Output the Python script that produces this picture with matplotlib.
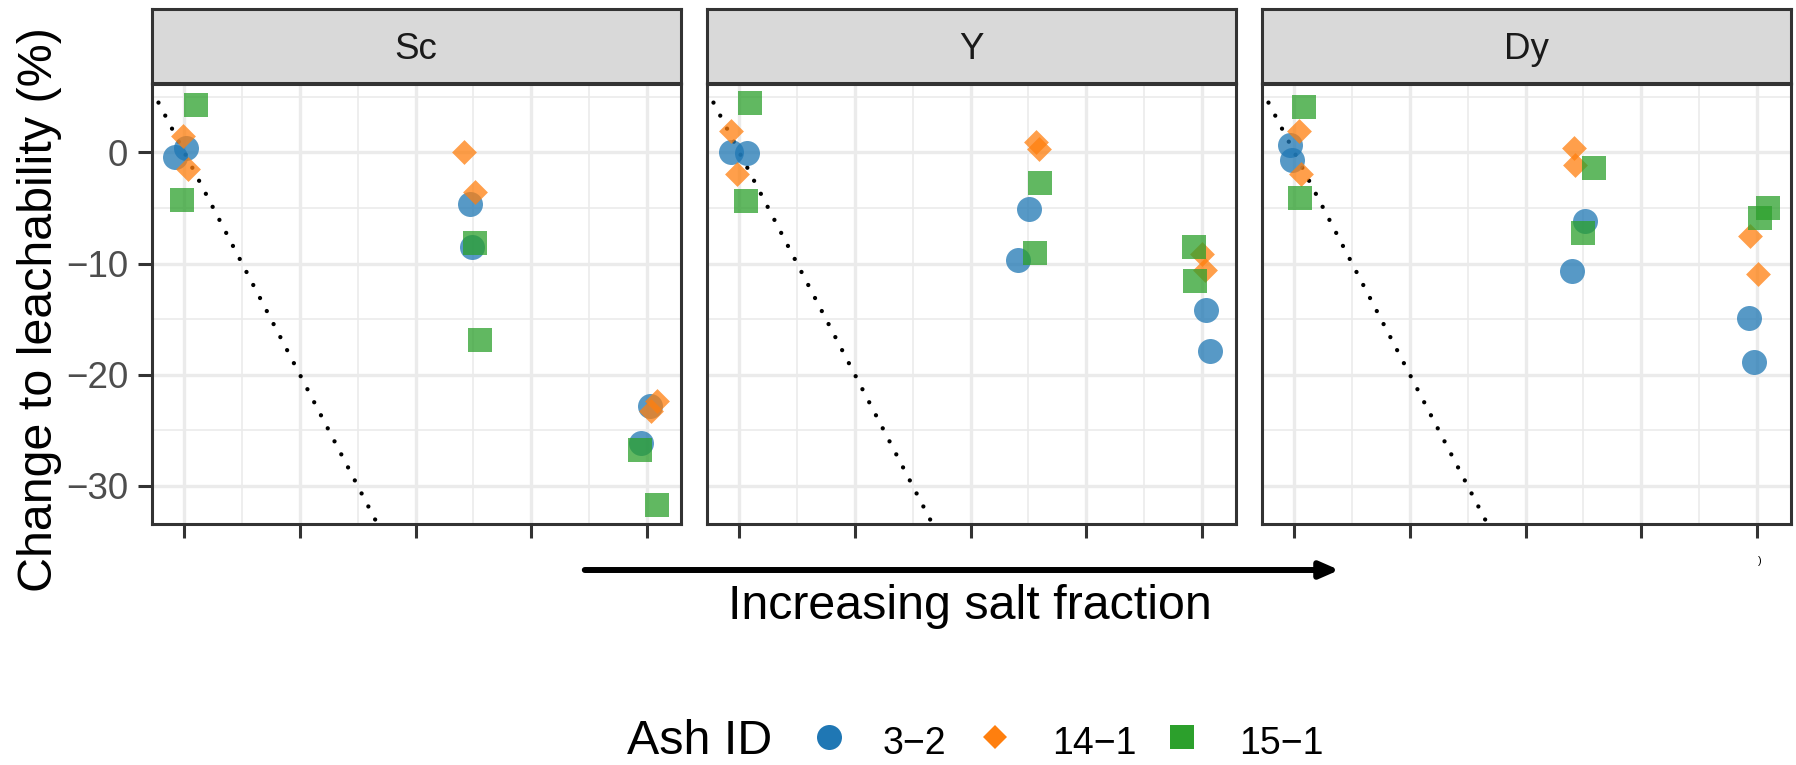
import matplotlib
matplotlib.use("Agg")
import matplotlib.pyplot as plt
from matplotlib.lines import Line2D
from matplotlib.patches import FancyArrowPatch

plt.rcParams["font.family"] = ["Liberation Sans", "DejaVu Sans"]

# facets and groups
elements = ["Sc", "Y", "Dy"]
ash_ids = ["3\u22122", "14\u22121", "15\u22121"]
ash_colors = ["#1f77b4", "#ff7f0e", "#2ca02c"]
ash_markers = ["o", "D", "s"]
ash_sizes = [324, 160, 310]

# salt fraction position (jittered) and change to leachability (%)
sc_x = [[0.012, -0.084, 2.475, 2.493, 4.025, 3.954],
        [-0.010, 0.034, 2.419, 2.511, 4.087, 4.037],
        [0.105, -0.016, 2.518, 2.561, 3.945, 4.093]]
sc_y = [[0.39, -0.42, -4.62, -8.48, -22.85, -26.15],
        [1.49, -1.50, 0.0, -3.6, -22.4, -23.3],
        [4.22, -4.31, -8.18, -16.9, -26.8, -31.7]]

y_x = [[-0.071, 0.067, 2.503, 2.413, 4.041, 4.076],
       [-0.068, -0.016, 2.570, 2.595, 4.004, 4.032],
       [0.096, 0.061, 2.598, 2.555, 3.930, 3.939]]
y_y = [[0.05, -0.06, -5.12, -9.7, -14.14, -17.88],
       [1.94, -1.98, 0.95, 0.32, -9.14, -10.57],
       [4.4, -4.4, -2.79, -9.08, -8.54, -11.6]]

dy_x = [[-0.040, -0.022, 2.512, 2.405, 3.930, 3.978],
        [0.044, 0.059, 2.420, 2.426, 3.946, 4.012],
        [0.082, 0.047, 2.593, 2.497, 4.098, 4.029]]
dy_y = [[0.63, -0.66, -6.17, -10.7, -14.89, -18.84],
        [1.91, -1.95, 0.41, -1.11, -7.52, -10.9],
        [4.04, -4.13, -1.44, -7.28, -5.03, -5.93]]

panel_x = [sc_x, y_x, dy_x]
panel_y = [sc_y, y_y, dy_y]

W, H = 1796, 765
GREY20 = "#333333"


def px_box(left, top, right, bottom):
    return [left / W, 1 - bottom / H, (right - left) / W, (bottom - top) / H]


fig = plt.figure(figsize=(W / 100, H / 100), dpi=100)

panel_lefts = [151.7, 706.7, 1261.7]
panel_w = 529

for i, name in enumerate(elements):
    left = panel_lefts[i]
    ax = fig.add_axes(px_box(left, 84, left + panel_w, 524))
    ax.set_xlim(-0.282, 4.294)
    ax.set_ylim(-33.42, 6.14)
    ax.set_xticks(range(5))
    ax.set_xticks([0.5, 1.5, 2.5, 3.5], minor=True)
    ax.set_yticks([-30, -20, -10, 0])
    ax.set_yticks([-25, -15, -5, 5], minor=True)
    ax.set_axisbelow(True)
    ax.grid(which="major", color="#EBEBEB", lw=2.4)
    ax.grid(which="minor", color="#EBEBEB", lw=1.2)
    ax.tick_params(which="minor", length=0)
    ax.tick_params(axis="x", which="major", length=10, width=2.2,
                   color=GREY20, labelbottom=False)
    if i == 0:
        ax.tick_params(axis="y", which="major", length=10, width=2.2,
                       color=GREY20, labelsize=26.5, labelcolor="#4D4D4D",
                       pad=7)
    else:
        ax.tick_params(axis="y", which="major", left=False, labelleft=False)
    for sp in ax.spines.values():
        sp.set_linewidth(2.2)
        sp.set_color(GREY20)
        sp.set_zorder(5)

    # 1:1 dilution reference
    ax.axline((0, 0), slope=-20, color="black", lw=3.1,
              linestyle=(0, (0.01, 3.4)), dash_capstyle="round", zorder=1.5)

    for j in range(len(ash_ids)):
        ax.scatter(panel_x[i][j], panel_y[i][j], marker=ash_markers[j],
                   s=ash_sizes[j], color=ash_colors[j], alpha=0.75,
                   linewidths=0, zorder=3)

    # facet strip
    sax = fig.add_axes(px_box(left, 8.5, left + panel_w, 82.5))
    sax.set_facecolor("#D9D9D9")
    sax.set_xticks([])
    sax.set_yticks([])
    for sp in sax.spines.values():
        sp.set_linewidth(2.2)
        sp.set_color(GREY20)
    sax.text(0.5, 0.5, name, ha="center", va="center_baseline",
             fontsize=26.5, color="#1A1A1A", transform=sax.transAxes)

fig.text(40 / W, 1 - 309.5 / H, "Change to leachability (%)", rotation=90,
         ha="center", va="center", fontsize=34.8)

fig.text(969.5 / W, 1 - 619 / H, "Increasing salt fraction",
         ha="center", va="baseline", fontsize=34.8)

arrow = FancyArrowPatch((582 / W, 1 - 570 / H), (1342 / W, 1 - 570 / H),
                        transform=fig.transFigure,
                        arrowstyle="-|>,head_length=0.8,head_width=0.35",
                        mutation_scale=14, lw=4.3, color="black")
fig.add_artist(arrow)

fig.text(1760 / W, 1 - 561 / H, ")", fontsize=8, ha="center", va="center")

# legend along the bottom
legend_base = 11
fig.text(626.7 / W, legend_base / H, "Ash ID", fontsize=34.8, ha="left",
         va="baseline")
key_x = [828.7, 995, 1182]
label_x = [883, 1051.7, 1239]
key_ms = [18, 12.7, 17]
for j in range(len(ash_ids)):
    fig.add_artist(Line2D([key_x[j] / W], [(legend_base + 17) / H],
                          marker=ash_markers[j], markersize=key_ms[j],
                          color=ash_colors[j], linestyle="none",
                          markeredgewidth=0, transform=fig.transFigure))
    fig.text(label_x[j] / W, legend_base / H, ash_ids[j], fontsize=27,
             ha="left", va="baseline")

fig.savefig("out.png", dpi=100)
